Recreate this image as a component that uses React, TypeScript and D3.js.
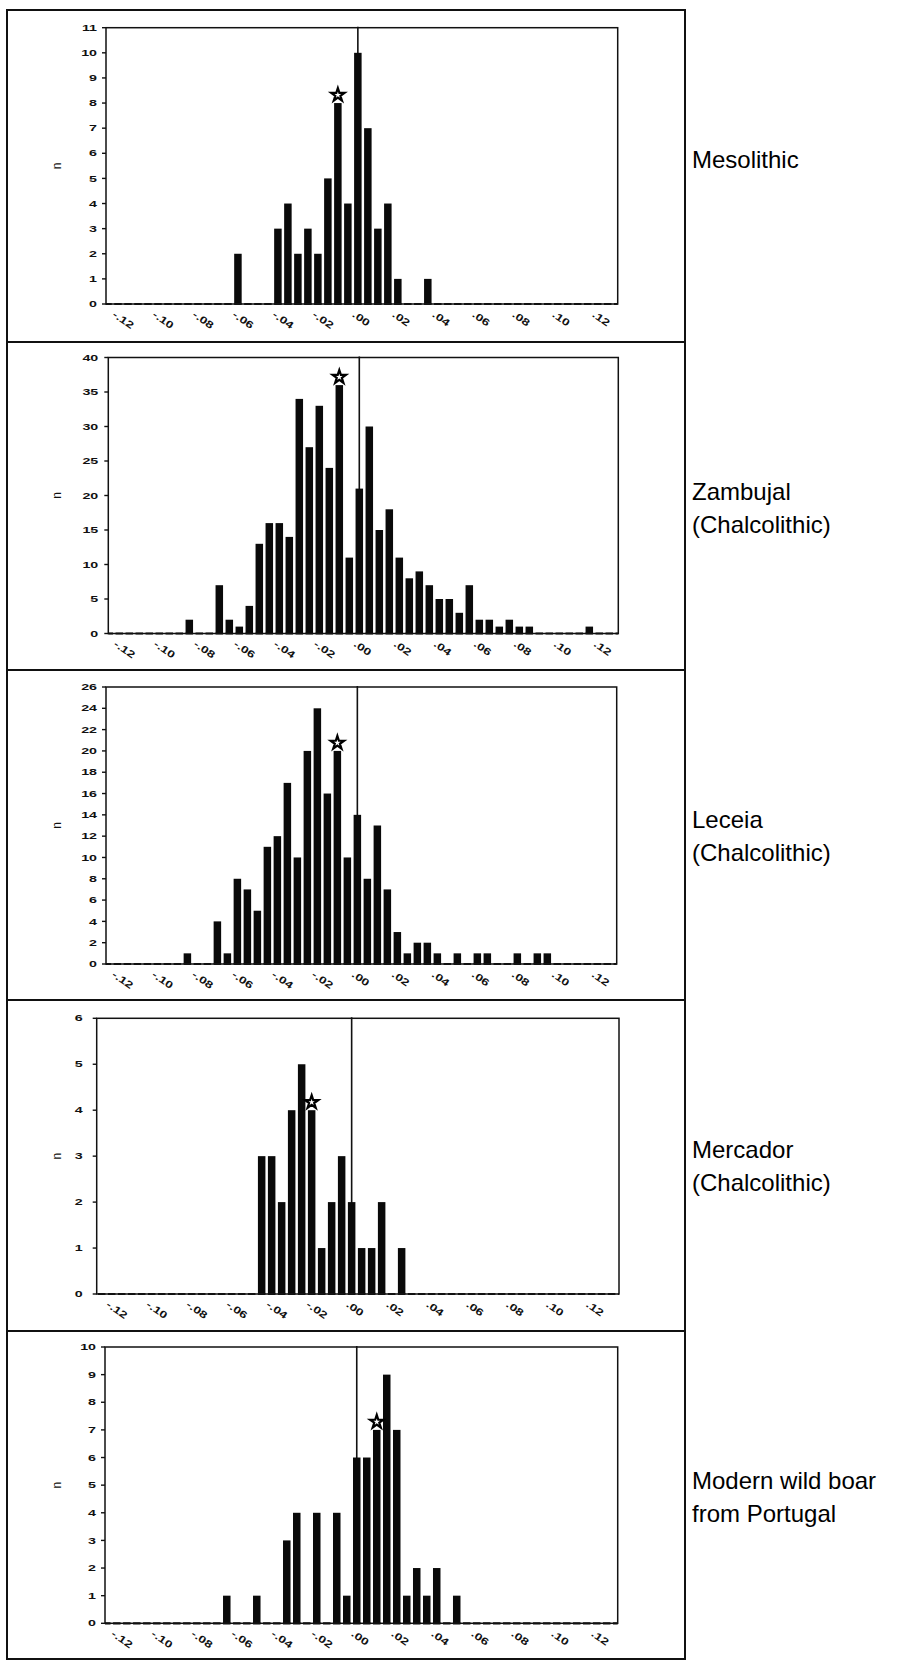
import React from 'react';
import * as d3 from 'd3';

// ---------- data (bin centre, count) ----------
const mesolithic: [number, number][] = [
  [-0.06, 2], [-0.04, 3], [-0.035, 4], [-0.03, 2], [-0.025, 3], [-0.02, 2], [-0.015, 5],
  [-0.01, 8], [-0.005, 4], [0, 10], [0.005, 7], [0.01, 3], [0.015, 4], [0.02, 1], [0.035, 1],
];
const zambujal: [number, number][] = [
  [-0.085, 2], [-0.07, 7], [-0.065, 2], [-0.06, 1], [-0.055, 4], [-0.05, 13], [-0.045, 16],
  [-0.04, 16], [-0.035, 14], [-0.03, 34], [-0.025, 27], [-0.02, 33], [-0.015, 24], [-0.01, 36],
  [-0.005, 11], [0, 21], [0.005, 30], [0.01, 15], [0.015, 18], [0.02, 11], [0.025, 8], [0.03, 9],
  [0.035, 7], [0.04, 5], [0.045, 5], [0.05, 3], [0.055, 7], [0.06, 2], [0.065, 2], [0.07, 1],
  [0.075, 2], [0.08, 1], [0.085, 1], [0.115, 1],
];
const leceia: [number, number][] = [
  [-0.085, 1], [-0.07, 4], [-0.065, 1], [-0.06, 8], [-0.055, 7], [-0.05, 5], [-0.045, 11],
  [-0.04, 12], [-0.035, 17], [-0.03, 10], [-0.025, 20], [-0.02, 24], [-0.015, 16], [-0.01, 20],
  [-0.005, 10], [0, 14], [0.005, 8], [0.01, 13], [0.015, 7], [0.02, 3], [0.025, 1], [0.03, 2],
  [0.035, 2], [0.04, 1], [0.05, 1], [0.06, 1], [0.065, 1], [0.08, 1], [0.09, 1], [0.095, 1],
];
const mercador: [number, number][] = [
  [-0.045, 3], [-0.04, 3], [-0.035, 2], [-0.03, 4], [-0.025, 5], [-0.02, 4], [-0.015, 1],
  [-0.01, 2], [-0.005, 3], [0, 2], [0.005, 1], [0.01, 1], [0.015, 2], [0.025, 1],
];
const modernBoar: [number, number][] = [
  [-0.065, 1], [-0.05, 1], [-0.035, 3], [-0.03, 4], [-0.02, 4], [-0.01, 4], [-0.005, 1],
  [0, 6], [0.005, 6], [0.01, 7], [0.015, 9], [0.02, 7], [0.025, 1], [0.03, 2], [0.035, 1],
  [0.04, 2], [0.05, 1],
];

const seriesList = [mesolithic, zambujal, leceia, mercador, modernBoar];
const starBins = [-0.01, -0.01, -0.01, -0.02, 0.01];
const binWidth = 0.005;

const xTickValues = [-0.12, -0.1, -0.08, -0.06, -0.04, -0.02, 0, 0.02, 0.04, 0.06, 0.08, 0.1, 0.12];
const xTickLabels = ['-.12', '-.10', '-.08', '-.06', '-.04', '-.02', '.00', '.02', '.04', '.06', '.08', '.10', '.12'];

const yTicksMesolithic = [0, 1, 2, 3, 4, 5, 6, 7, 8, 9, 10, 11];
const yTicksZambujal = [0, 5, 10, 15, 20, 25, 30, 35, 40];
const yTicksLeceia = [0, 2, 4, 6, 8, 10, 12, 14, 16, 18, 20, 22, 24, 26];
const yTicksMercador = [0, 1, 2, 3, 4, 5, 6];
const yTicksModern = [0, 1, 2, 3, 4, 5, 6, 7, 8, 9, 10];
const yTickSets = [yTicksMesolithic, yTicksZambujal, yTicksLeceia, yTicksMercador, yTicksModern];

const titles = [
  ['Mesolithic'],
  ['Zambujal', '(Chalcolithic)'],
  ['Leceia', '(Chalcolithic)'],
  ['Mercador', '(Chalcolithic)'],
  ['Modern wild boar', 'from Portugal'],
];
const yAxisTitle = 'n';

// ---------- layout ----------
const layouts = [
  { boxTop: 10, boxBottom: 342, left: 106, right: 617.7, top: 27.7, bottom: 304, xDomain: [-0.126, 0.13], labGap: 9 },
  { boxTop: 342, boxBottom: 670, left: 108.3, right: 618.3, top: 357.5, bottom: 633.5, xDomain: [-0.1255, 0.1295], labGap: 10 },
  { boxTop: 670, boxBottom: 1000, left: 106, right: 616.7, top: 687, bottom: 964, xDomain: [-0.1257, 0.1297], labGap: 9 },
  { boxTop: 1000, boxBottom: 1331, left: 96.7, right: 619, top: 1018.3, bottom: 1294, xDomain: [-0.1275, 0.1337], labGap: 14 },
  { boxTop: 1331, boxBottom: 1659, left: 105, right: 617.7, top: 1347, bottom: 1623.3, xDomain: [-0.1259, 0.1305], labGap: 9 },
];
const boxLeft = 7;
const boxRight = 685;
const FONT = "'Liberation Sans', Arial, Helvetica, sans-serif";

const starPath = d3.symbol(d3.symbolStar, 55)() as string;

function Panel({ idx }: { idx: number }) {
  const L = layouts[idx];
  const data = seriesList[idx];
  const ticks = yTickSets[idx];
  const x = d3.scaleLinear().domain(L.xDomain).range([L.left, L.right]);
  const y = d3.scaleLinear().domain([0, ticks[ticks.length - 1]]).range([L.bottom, L.top]);
  const bw = x(binWidth) - x(0);
  const barW = bw * 0.75;
  const x0 = x(0);
  const dashOffset = -(((x0 - barW / 2 - L.left) % bw) + bw) % bw;
  const starVal = data.find((d) => Math.abs(d[0] - starBins[idx]) < 1e-9)?.[1] ?? 0;
  const midY = (L.top + L.bottom) / 2;

  return (
    <g>
      <rect x={boxLeft} y={L.boxTop} width={boxRight - boxLeft} height={L.boxBottom - L.boxTop}
        fill="none" stroke="#111" strokeWidth={2} />
      {/* plot frame */}
      <rect x={L.left} y={L.top} width={L.right - L.left} height={L.bottom - L.top}
        fill="none" stroke="#111" strokeWidth={1.5} />
      {/* zero reference line */}
      <line x1={x0} x2={x0} y1={L.top - 1} y2={L.bottom} stroke="#111" strokeWidth={1.6} />
      {/* bars */}
      {data.map(([c, n], i) => (
        <rect key={i} x={x(c) - barW / 2} y={y(n)} width={barW} height={y(0) - y(n)} fill="#0a0a0a" />
      ))}
      {/* baseline dashes (empty bins) */}
      <line x1={L.left} x2={L.right} y1={L.bottom} y2={L.bottom} stroke="#111" strokeWidth={2.2}
        strokeDasharray={`${barW} ${bw - barW}`} strokeDashoffset={dashOffset} />
      {/* star */}
      <path d={starPath} transform={`translate(${x(starBins[idx])},${y(starVal) - 8})`}
        fill="#fff" stroke="#000" strokeWidth={2.2} strokeLinejoin="miter" />
      {/* y ticks */}
      {ticks.map((t) => (
        <g key={t}>
          <line x1={L.left - 4} x2={L.left} y1={y(t)} y2={y(t)} stroke="#111" strokeWidth={1.4} />
          <g transform={`translate(${L.left - L.labGap},${y(t)}) scale(1.5,1)`}>
            <text textAnchor="end" dominantBaseline="central" fontSize={9.5} fontWeight="bold"
              fontFamily={FONT} fill="#111">{t}</text>
          </g>
        </g>
      ))}
      {/* x tick labels */}
      {xTickValues.map((v, i) => (
        <g key={v} transform={`translate(${x(v) - 2},${L.bottom + 6}) rotate(35) scale(1.35,1)`}>
          <text dominantBaseline="hanging" fontSize={10} fontWeight="bold" fontFamily={FONT} fill="#111">
            {xTickLabels[i]}
          </text>
        </g>
      ))}
      {/* y axis title */}
      <text transform={`translate(57,${midY}) rotate(-90)`} textAnchor="middle" dominantBaseline="central"
        fontSize={12} fontFamily={FONT} fill="#111">{yAxisTitle}</text>
      {/* panel title */}
      {titles[idx].map((line, j) => (
        <text key={j} x={692} y={L.boxTop + 158 + j * 33} fontSize={24} fontFamily={FONT} fill="#000">
          {line}
        </text>
      ))}
    </g>
  );
}

export default function App() {
  return (
    <svg width={900} height={1661} viewBox="0 0 900 1661"
      style={{ position: 'absolute', left: 0, top: 0, background: '#fff' }}>
      <rect x={0} y={0} width={900} height={1661} fill="#fff" />
      {layouts.map((_, i) => (
        <Panel key={i} idx={i} />
      ))}
    </svg>
  );
}
